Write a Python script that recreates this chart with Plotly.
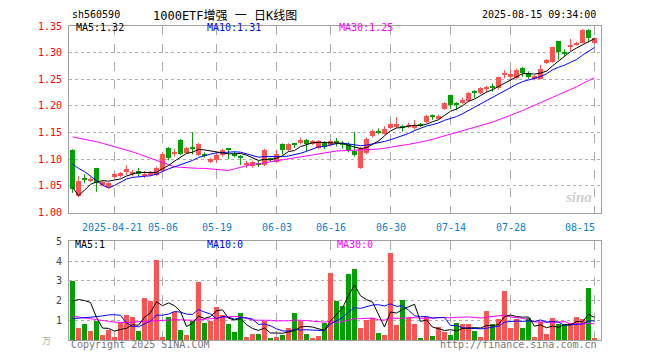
import numpy as np
import pandas as pd
import plotly.graph_objects as go

# ---------------- data ----------------
opens = [1.118,1.031,1.065,1.060,1.083,1.051,1.049,1.066,1.068,1.076,
         1.073,1.078,1.069,1.070,1.070,1.079,1.122,1.110,1.137,1.112,
         1.122,1.108,1.108,1.095,1.098,1.108,1.119,1.110,1.106,1.091,
         1.088,1.093,1.089,1.100,1.095,1.129,1.117,1.128,1.130,1.136,
         1.129,1.121,1.132,1.126,1.133,1.130,1.129,1.115,1.084,1.111,
         1.143,1.152,1.148,1.159,1.161,1.163,1.161,1.158,1.165,1.170,
         1.183,1.176,1.195,1.220,1.203,1.205,1.210,1.227,1.224,1.231,
         1.236,1.233,1.259,1.254,1.252,1.272,1.262,1.251,1.251,1.281,
         1.282,1.321,1.301,1.312,1.315,1.318,1.343,1.318]
highs = [1.119,1.069,1.072,1.066,1.084,1.060,1.057,1.074,1.076,1.089,
         1.080,1.084,1.078,1.078,1.086,1.113,1.123,1.119,1.138,1.123,
         1.151,1.131,1.113,1.103,1.112,1.120,1.120,1.115,1.108,1.097,
         1.097,1.097,1.120,1.103,1.118,1.130,1.130,1.130,1.141,1.138,
         1.136,1.136,1.134,1.136,1.140,1.134,1.132,1.151,1.123,1.141,
         1.156,1.158,1.162,1.169,1.179,1.165,1.169,1.174,1.168,1.183,
         1.184,1.184,1.207,1.221,1.207,1.216,1.226,1.230,1.235,1.238,
         1.242,1.255,1.267,1.267,1.270,1.273,1.265,1.258,1.277,1.288,
         1.311,1.322,1.306,1.326,1.320,1.344,1.344,1.328]
lows = [1.037,1.029,1.055,1.057,1.039,1.049,1.046,1.064,1.066,1.071,
        1.068,1.068,1.065,1.068,1.068,1.077,1.098,1.105,1.108,1.110,
        1.109,1.106,1.103,1.093,1.093,1.105,1.100,1.104,1.089,1.084,
        1.084,1.086,1.087,1.096,1.093,1.109,1.115,1.121,1.128,1.115,
        1.127,1.119,1.119,1.124,1.124,1.120,1.113,1.105,1.082,1.109,
        1.141,1.147,1.146,1.157,1.159,1.152,1.159,1.156,1.161,1.168,
        1.174,1.174,1.193,1.195,1.192,1.203,1.208,1.215,1.222,1.226,
        1.227,1.231,1.252,1.250,1.250,1.255,1.251,1.248,1.250,1.279,
        1.281,1.287,1.294,1.303,1.313,1.317,1.319,1.316]
closes = [1.045,1.060,1.063,1.064,1.055,1.058,1.055,1.073,1.075,1.082,
          1.076,1.073,1.070,1.075,1.084,1.110,1.102,1.112,1.110,1.121,
          1.121,1.129,1.107,1.101,1.108,1.117,1.118,1.108,1.104,1.092,
          1.095,1.090,1.118,1.099,1.110,1.117,1.129,1.127,1.136,1.129,
          1.134,1.134,1.124,1.134,1.131,1.126,1.115,1.108,1.121,1.139,
          1.154,1.150,1.156,1.167,1.167,1.158,1.163,1.164,1.164,1.181,
          1.180,1.182,1.205,1.202,1.202,1.211,1.224,1.226,1.234,1.235,
          1.234,1.254,1.260,1.260,1.268,1.261,1.254,1.256,1.270,1.286,
          1.310,1.301,1.299,1.314,1.319,1.343,1.328,1.327]
volumes = [2.97,0.58,0.80,0.42,0.97,0.25,0.50,0.12,0.83,1.25,
           1.13,0.42,2.12,1.97,4.05,0.12,1.13,1.42,0.50,0.25,
           0.97,2.92,0.83,0.97,1.67,1.25,0.80,0.37,1.33,0.13,
           0.30,0.30,0.97,0.07,0.13,0.25,0.60,1.33,0.97,0.30,
           0.08,0.20,0.87,3.37,1.97,1.70,3.32,3.60,0.60,1.00,
           1.08,0.35,0.25,4.40,0.75,2.00,1.08,0.82,0.05,1.13,
           0.20,0.63,0.40,0.25,0.83,0.80,0.80,0.45,0.15,1.45,
           0.78,1.07,2.45,0.57,1.07,0.62,1.12,0.12,0.92,0.30,
           1.10,0.78,0.80,0.87,1.13,1.05,2.62,0.07]

ma5_head = [1.048, 1.032, 1.042, 1.053]
ma10_head = [1.091, 1.083, 1.077, 1.068, 1.060, 1.052, 1.046, 1.051, 1.057]
ma30_head = [1.142, 1.140, 1.138, 1.135, 1.133, 1.130, 1.127, 1.124, 1.121, 1.117,
             1.114, 1.110, 1.106, 1.102, 1.098, 1.094, 1.089, 1.086, 1.085, 1.084,
             1.084, 1.083, 1.083, 1.082, 1.081, 1.079, 1.079, 1.082, 1.085]
vma5_head = [1.97, 2.05, 2.00, 1.90]
vma10_head = [1.08, 1.10, 1.12, 1.15, 1.18, 1.22, 1.27, 1.28, 1.25]
vma30_head = [1.20, 1.17, 1.13, 1.08, 1.03, 1.00, 0.95, 0.90, 0.88, 0.88,
              0.90, 0.92, 0.95, 0.98, 1.00, 1.02, 1.03, 1.03, 1.02, 1.00,
              1.00, 1.02, 1.05, 1.10, 1.13, 1.17, 1.20, 1.20, 1.17]

tick_idx = [7, 15, 24, 34, 43, 53, 63, 73, 87]
tick_text = ["2025-04-21", "05-06", "05-19", "06-03", "06-16", "06-30", "07-14", "07-28", "08-15"]
price_ticks = [1.00, 1.05, 1.10, 1.15, 1.20, 1.25, 1.30, 1.35]
vol_ticks = [1, 2, 3, 4, 5]

# ---------------- helpers ----------------
def ma(series, n, head):
    s = pd.Series(series).rolling(n).mean().to_numpy()
    s[:len(head)] = head
    return s

n = len(closes)
x = np.arange(n)
o = np.array(opens); c = np.array(closes); h = np.array(highs); l = np.array(lows)
up = c >= o

RED = "#ff5252"
GREEN = "#00a000"

ma5 = ma(closes, 5, ma5_head)
ma10 = ma(closes, 10, ma10_head)
ma30 = ma(closes, 30, ma30_head)
vma5 = ma(volumes, 5, vma5_head)
vma10 = ma(volumes, 10, vma10_head)
vma30 = ma(volumes, 30, vma30_head)

fig = go.Figure()

# wicks
for mask, col in [(up, RED), (~up, GREEN)]:
    wx, wy = [], []
    for i in x[mask]:
        wx += [i, i, None]
        wy += [l[i], h[i], None]
    fig.add_trace(go.Scatter(x=wx, y=wy, mode="lines", line=dict(color=col, width=1),
                             hoverinfo="skip", showlegend=False))
# bodies
body_lo = np.minimum(o, c)
body_h = np.maximum(np.abs(c - o), 0.0018)
fig.add_trace(go.Bar(x=x, y=body_h, base=body_lo, width=0.8,
                     marker=dict(color=[RED if u else GREEN for u in up], line=dict(width=0)),
                     showlegend=False))

for arr, col in [(ma30, "#ff00ff"), (ma10, "#0000ff"), (ma5, "#000000")]:
    fig.add_trace(go.Scatter(x=x, y=arr, mode="lines", line=dict(color=col, width=1),
                             showlegend=False))

# volume
fig.add_trace(go.Bar(x=x, y=volumes, width=0.8, xaxis="x2", yaxis="y2",
                     marker=dict(color=[RED if u else GREEN for u in up], line=dict(width=0)),
                     showlegend=False))
for arr, col in [(vma30, "#ff00ff"), (vma10, "#0000ff"), (vma5, "#000000")]:
    fig.add_trace(go.Scatter(x=x, y=arr, mode="lines", line=dict(color=col, width=1),
                             xaxis="x2", yaxis="y2", showlegend=False))

MONO = "DejaVu Sans Mono"
xr = [-0.58, 88.08]
# the page body has an 8px margin; figure pixel = page pixel - 8
OFF = 8
FW, FH = 660 - OFF, 360 - OFF
ML, MR, MT, MB = 69 - OFF, FW - (601 - OFF), 22 - OFF, FH - (340 - OFF)
H = FH - MT - MB
W = FW - ML - MR

def py(pix):
    return (340 - pix) / H

def px(pix):
    return (pix - 69) / W

axis_common = dict(showline=True, mirror=True, linecolor="#a0a0a0", linewidth=1, zeroline=False)

fig.update_layout(
    width=FW, height=FH, margin=dict(l=ML, r=MR, t=MT, b=MB),
    paper_bgcolor="white", plot_bgcolor="white", bargap=0, barmode="overlay",
    xaxis=dict(domain=[0, 1], range=xr, tickvals=tick_idx, showticklabels=False, ticks="",
               showgrid=True, gridcolor="#aaaaaa", griddash="dash", gridwidth=1,
               anchor="y", **axis_common),
    yaxis=dict(domain=[py(211), 1], range=[1.00, 1.35], tickvals=price_ticks,
               ticktext=[f"{v:.2f}" for v in price_ticks], ticks="",
               tickfont=dict(family=MONO, size=10, color="#ff0000"), ticklabelstandoff=4,
               showgrid=True, gridcolor="#b0b0b0", griddash="dot", gridwidth=1, **axis_common),
    xaxis2=dict(domain=[0, 1], range=xr, tickvals=tick_idx, showticklabels=False, ticks="",
                showgrid=True, gridcolor="#aaaaaa", griddash="dash", anchor="y2", matches="x",
                **axis_common),
    yaxis2=dict(domain=[0, py(240)], range=[0, 5], tickvals=vol_ticks, ticks="",
                tickfont=dict(family=MONO, size=10, color="#444444"), ticklabelstandoff=4,
                showgrid=True, gridcolor="#b0b0b0", griddash="dot", anchor="x2", **axis_common),
)

ann = []
def A(text, xpix, ypix, color="#000", size=10, xanchor="left", family=MONO, **kw):
    ann.append(dict(text=text, x=px(xpix), y=py(ypix), xref="paper", yref="paper", showarrow=False,
                    xanchor=xanchor, yanchor="middle", font=dict(family=family, size=size, color=color), **kw))

A("sh560590", 70, 10)
A("1000ETF增强 一 日K线图", 151, 12, size=12, family="DejaVu Sans Mono, Noto Sans CJK SC")
A("2025-08-15 09:34:00", 598, 10, xanchor="right")
A("MA5:1.32", 74, 24)
A("MA10:1.31", 205, 24, color="#0000ff")
A("MA30:1.25", 337, 24, color="#ff00ff")
A("MA5:1", 73, 243)
A("MA10:0", 205, 243, color="#0000ff")
A("MA30:0", 335, 243, color="#ff00ff")
A("Copyright 2025 SINA.COM", 69, 345, color="#777777")
A("http://finance.sina.com.cn", 599, 345, color="#777777", xanchor="right")
A("万", 46, 341, color="#aaaaaa", size=9, family="Noto Sans CJK SC", xanchor="center")
A("<i><b>sina</b></i>", 578, 195, color="#d0d0d0", size=15, family="Liberation Serif", xanchor="center")

for i, t in zip(tick_idx, tick_text):
    cx = 72.5 + 6 * i
    if t == "08-15":
        cx = 580
    if t == "2025-04-21":
        cx = 112
    A(t, cx, 226, color="#0a7fd0", xanchor="center")

fig.update_layout(annotations=ann)
fig.write_html("out.html")
